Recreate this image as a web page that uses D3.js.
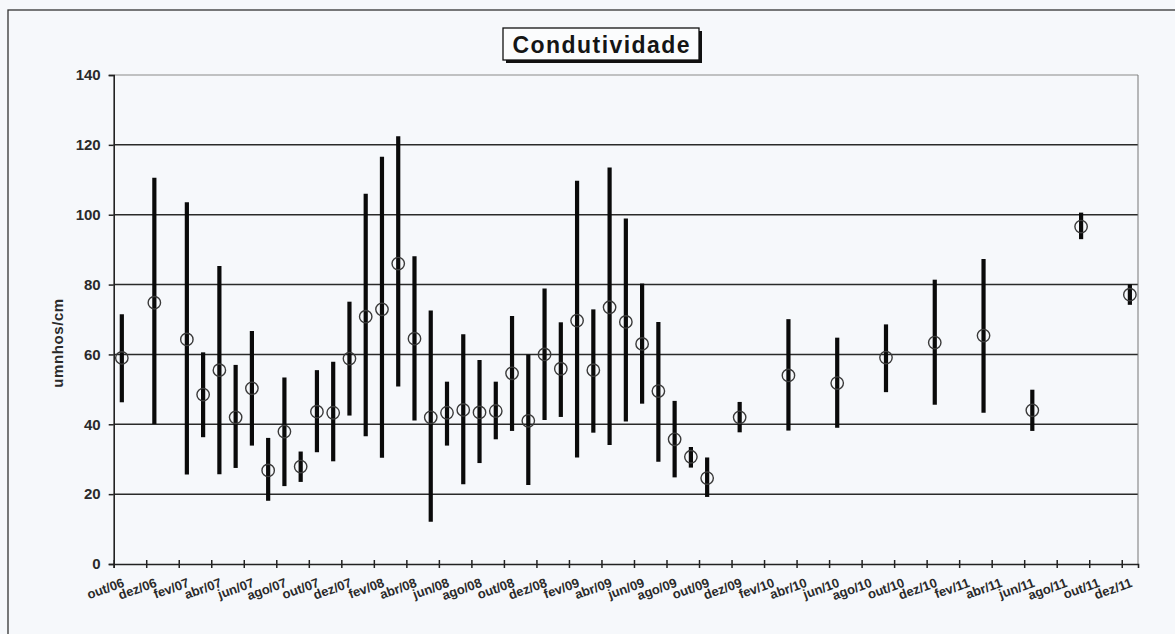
<!DOCTYPE html>
<html>
<head>
<meta charset="utf-8">
<script src="https://cdn.jsdelivr.net/npm/d3@7"></script>
<style>
  html, body { margin: 0; padding: 0; background: #f6f8fb; }
  svg { display: block; font-family: "Liberation Sans", Arial, sans-serif; }
</style>
</head>
<body>
<svg id="chart" width="1175" height="634"></svg>
<script>
// ---- data ----
const monthLabels = ["out/06","dez/06","fev/07","mar/07","abr/07","mai/07","jun/07","jul/07","ago/07","set/07",
  "out/07","nov/07","dez/07","jan/08","fev/08","mar/08","abr/08","mai/08","jun/08","jul/08","ago/08","set/08",
  "out/08","nov/08","dez/08","jan/09","fev/09","mar/09","abr/09","mai/09","jun/09","jul/09","ago/09","set/09",
  "out/09","dez/09","mar/10","jun/10","set/10","dez/10","mar/11","jun/11","set/11","dez/11"];
const highValues = [71.5,110.6,103.6,60.6,85.3,57.0,66.7,36.1,53.4,32.2,
  55.5,57.9,75.1,106.0,116.6,122.5,88.1,72.6,52.2,65.8,58.4,52.2,
  71.0,60.0,78.9,69.2,109.7,72.9,113.5,98.9,80.3,69.3,46.7,33.5,
  30.5,46.4,70.1,64.8,68.6,81.4,87.3,49.9,100.6,80.1];
const lowValues = [46.3,40.1,25.6,36.3,25.7,27.5,33.9,18.1,22.3,23.5,
  32.0,29.4,42.5,36.6,30.4,50.8,41.1,12.1,33.9,22.8,28.9,35.7,
  38.1,22.6,41.2,42.1,30.5,37.6,34.1,40.8,45.9,29.3,24.8,27.6,
  19.2,37.7,38.2,39.0,49.2,45.6,43.3,38.1,93.0,74.2];
const meanValues = [59.0,74.8,64.3,48.5,55.5,42.0,50.3,26.8,37.9,27.9,
  43.6,43.3,58.8,70.8,72.9,86.0,64.5,42.0,43.3,44.1,43.4,43.8,
  54.6,41.0,60.0,55.9,69.7,55.5,73.5,69.3,63.0,49.5,35.7,30.7,
  24.6,42.0,54.0,51.8,59.1,63.4,65.4,44.0,96.6,77.1];
const tickLabels = ["out/06","dez/06","fev/07","abr/07","jun/07","ago/07","out/07","dez/07",
  "fev/08","abr/08","jun/08","ago/08","out/08","dez/08","fev/09","abr/09","jun/09","ago/09",
  "out/09","dez/09","fev/10","abr/10","jun/10","ago/10","out/10","dez/10","fev/11","abr/11",
  "jun/11","ago/11","out/11","dez/11"];
const yTicks = [0,20,40,60,80,100,120,140];
const titleText = "Condutividade";
const yAxisTitle = "umnhos/cm";

// ---- helpers ----
const ptMonths = ["jan","fev","mar","abr","mai","jun","jul","ago","set","out","nov","dez"];
const startKey = 2006*12 + 9;
function monthIndex(lbl) {
  const [m, y] = lbl.split("/");
  return (2000 + +y) * 12 + ptMonths.indexOf(m) - startKey;
}
const totalMonths = monthIndex("dez/11") + 1;

const data = monthLabels.map((m, i) => ({
  idx: monthIndex(m), high: highValues[i], low: lowValues[i], mean: meanValues[i]
}));

const L = 113.7, R = 1138, T = 75, B = 564;
const svg = d3.select("#chart");

const x = d3.scaleLinear().domain([0, totalMonths]).range([L, R]);
const y = d3.scaleLinear().domain([0, 140]).range([B, T]);

// outer border (left & top visible)
svg.append("rect").attr("x", 8).attr("y", 10).attr("width", 1200).attr("height", 700)
  .attr("fill", "none").attr("stroke", "#333").attr("stroke-width", 1.3);

// gridlines
svg.append("g").selectAll("line").data(yTicks.filter(v => v > 0 && v < 140)).join("line")
  .attr("x1", L).attr("x2", R).attr("y1", d => y(d)).attr("y2", d => y(d))
  .attr("stroke", "#2a2a2a").attr("stroke-width", 1.5);
// top border (light)
svg.append("line").attr("x1", L).attr("x2", R).attr("y1", y(140)).attr("y2", y(140))
  .attr("stroke", "#8a8a8a").attr("stroke-width", 1.2);
// right border
svg.append("line").attr("x1", R).attr("x2", R).attr("y1", y(140)).attr("y2", y(0))
  .attr("stroke", "#777").attr("stroke-width", 1);

// y axis
const yAxis = svg.append("g").attr("transform", `translate(${L},0)`)
  .call(d3.axisLeft(y).tickValues(yTicks).tickSize(5).tickPadding(8));
yAxis.select(".domain").attr("stroke", "#222").attr("stroke-width", 1.6);
yAxis.selectAll(".tick line").attr("stroke", "#222").attr("stroke-width", 1.5);
yAxis.selectAll(".tick text").attr("font-size", 15).attr("font-weight", "bold")
  .attr("fill", "#2a2a2a").attr("font-family", "'Liberation Sans', Arial, sans-serif");

// x axis
const xAxis = svg.append("g").attr("transform", `translate(0,${B})`)
  .call(d3.axisBottom(x).tickValues(d3.range(0, totalMonths, 2)).tickSize(4).tickFormat(""));
xAxis.select(".domain").attr("stroke", "#222").attr("stroke-width", 1.6);
xAxis.selectAll(".tick line").attr("y1", -4).attr("stroke", "#222").attr("stroke-width", 1.5);

svg.append("g").selectAll("text").data(tickLabels).join("text")
  .attr("transform", d => `translate(${x(monthIndex(d) + 0.5) + 2},${B + 19}) rotate(-20)`)
  .attr("text-anchor", "end").attr("dominant-baseline", "middle")
  .attr("font-size", 13).attr("font-weight", "bold").attr("fill", "#2a2a2a")
  .text(d => d);

// y axis title
svg.append("text").attr("transform", `translate(59,343) rotate(-90)`)
  .attr("text-anchor", "middle").attr("dominant-baseline", "middle")
  .attr("font-size", 15).attr("font-weight", "bold").attr("fill", "#2a2a2a")
  .attr("letter-spacing", 0.6).text(yAxisTitle);

// high-low bars
svg.append("g").selectAll("line").data(data).join("line")
  .attr("x1", d => x(d.idx + 0.5)).attr("x2", d => x(d.idx + 0.5))
  .attr("y1", d => y(d.high)).attr("y2", d => y(d.low))
  .attr("stroke", "#0a0a0a").attr("stroke-width", 4.2);

// mean markers
svg.append("g").selectAll("circle").data(data).join("circle")
  .attr("cx", d => x(d.idx + 0.5)).attr("cy", d => y(d.mean)).attr("r", 6.2)
  .attr("fill", "none").attr("stroke", "#3a3a3a").attr("stroke-width", 1.4);

// title box
const tb = { x: 503, y: 28, w: 196, h: 32 };
svg.append("rect").attr("x", tb.x + 3).attr("y", tb.y + 3).attr("width", tb.w).attr("height", tb.h)
  .attr("fill", "#111");
svg.append("rect").attr("x", tb.x).attr("y", tb.y).attr("width", tb.w).attr("height", tb.h)
  .attr("fill", "#fbfcfd").attr("stroke", "#111").attr("stroke-width", 1.3);
svg.append("text").attr("x", tb.x + tb.w / 2).attr("y", tb.y + 25)
  .attr("text-anchor", "middle").attr("font-size", 23).attr("font-weight", "bold")
  .attr("fill", "#151515").attr("textLength", 177).attr("lengthAdjust", "spacing")
  .text(titleText);
</script>
</body>
</html>
